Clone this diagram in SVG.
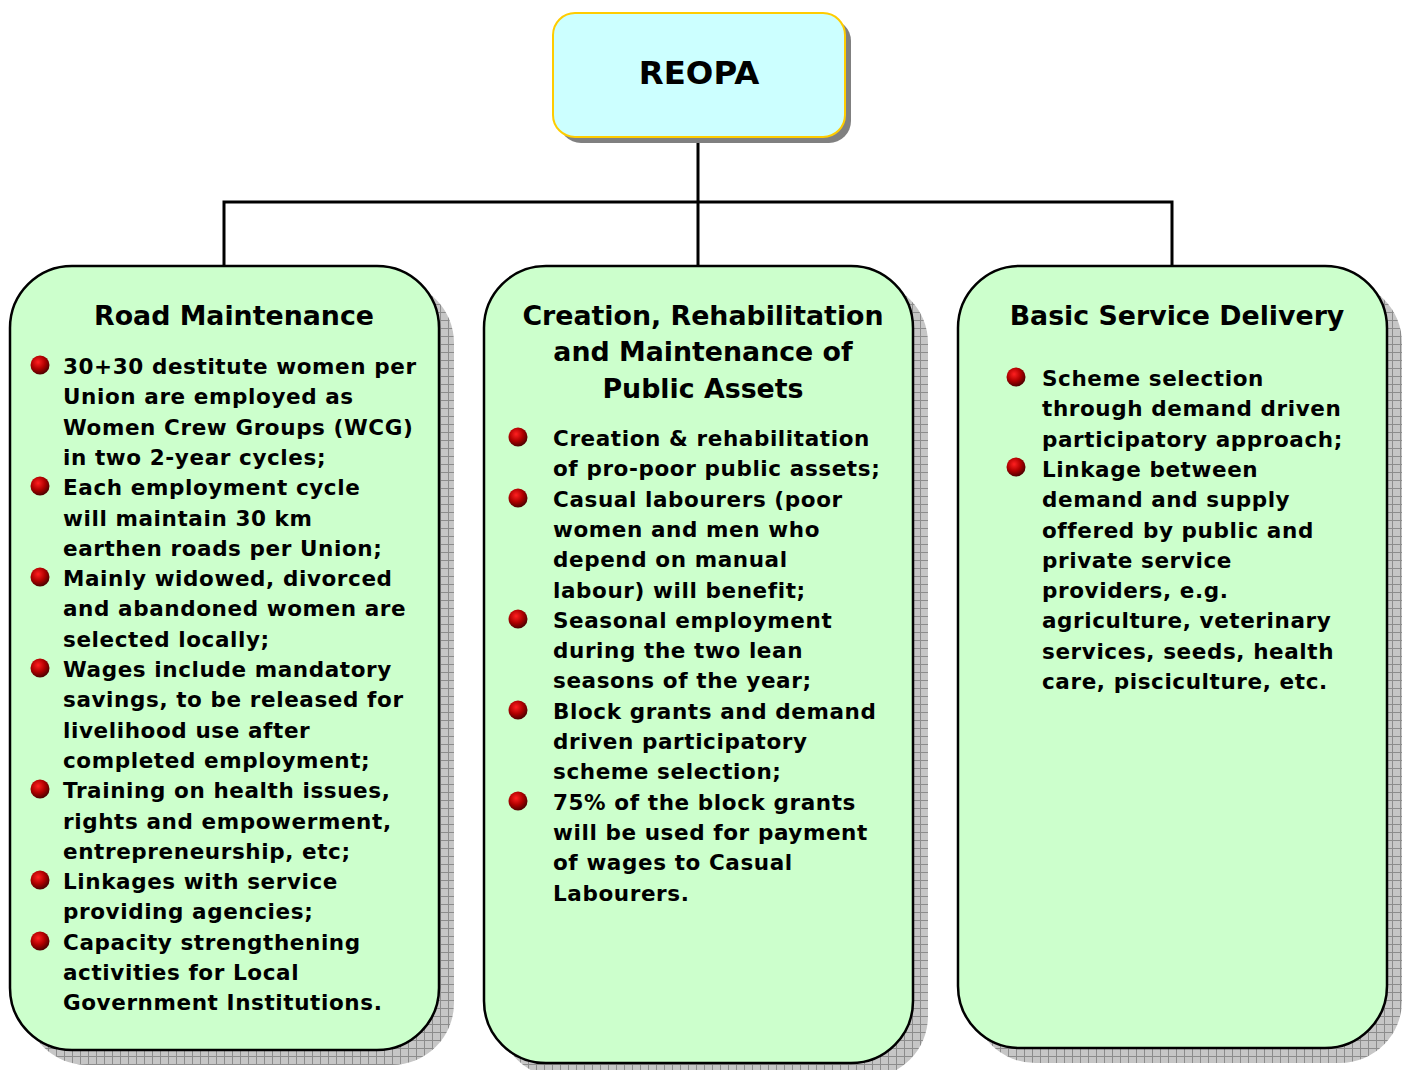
<svg xmlns="http://www.w3.org/2000/svg" width="1407" height="1070" viewBox="0 0 1407 1070">
<style>
.box{fill:#CCFFCC;stroke:#000;stroke-width:2.5}
.shadow{fill:url(#hatch)}
.head{font-family:"DejaVu Sans",Verdana,sans-serif;font-weight:bold;font-size:26.8px;fill:#000;text-anchor:middle}
.body{font-family:"DejaVu Sans",Verdana,sans-serif;font-weight:bold;font-size:21.5px;letter-spacing:0.6px;fill:#000}
.conn{stroke:#000;stroke-width:3;fill:none}
</style>
<defs>
<pattern id="hatch" width="8" height="8" patternUnits="userSpaceOnUse">
<rect width="8" height="8" fill="#c6c6c6"/>
<path d="M0 0.5H8M0.5 0V8" stroke="#8c8c8c" stroke-width="1"/>
</pattern>
<radialGradient id="ball" cx="0.4" cy="0.35" r="0.65">
<stop offset="0" stop-color="#ff2020"/>
<stop offset="0.55" stop-color="#b00000"/>
<stop offset="1" stop-color="#500000"/>
</radialGradient>
<circle id="b" r="9.5" fill="url(#ball)"/>
</defs>

<g id="connectors">
<path class="conn" d="M698 138V202M224 266V202H1172V266M698 202V266"/>
</g>

<g id="reopa">
<rect x="559" y="19" width="292" height="124" rx="22" fill="#808080"/>
<rect x="553" y="13" width="292" height="124" rx="22" fill="#CCFFFF" stroke="#FFCC00" stroke-width="2"/>
<text x="699" y="84" font-family="DejaVu Sans,Verdana,sans-serif" font-weight="bold" font-size="32.4" text-anchor="middle">REOPA</text>
</g>

<g id="road">
<rect class="shadow" x="25" y="281" width="429" height="784" rx="62"/>
<rect class="box" x="10" y="266" width="429" height="784" rx="62"/>
<text class="head" x="234" y="325">Road Maintenance</text>
<use href="#b" x="40" y="365"/>
<use href="#b" x="40" y="486"/>
<use href="#b" x="40" y="577"/>
<use href="#b" x="40" y="668"/>
<use href="#b" x="40" y="789"/>
<use href="#b" x="40" y="880"/>
<use href="#b" x="40" y="941"/>
<text class="body">
<tspan x="63" y="374">30+30 destitute women per</tspan>
<tspan x="63" y="404.3">Union are employed as</tspan>
<tspan x="63" y="434.6">Women Crew Groups (WCG)</tspan>
<tspan x="63" y="464.9">in two 2-year cycles;</tspan>
<tspan x="63" y="495.2">Each employment cycle</tspan>
<tspan x="63" y="525.5">will maintain 30 km</tspan>
<tspan x="63" y="555.8">earthen roads per Union;</tspan>
<tspan x="63" y="586.1">Mainly widowed, divorced</tspan>
<tspan x="63" y="616.4">and abandoned women are</tspan>
<tspan x="63" y="646.7">selected locally;</tspan>
<tspan x="63" y="677">Wages include mandatory</tspan>
<tspan x="63" y="707.3">savings, to be released for</tspan>
<tspan x="63" y="737.6">livelihood use after</tspan>
<tspan x="63" y="767.9">completed employment;</tspan>
<tspan x="63" y="798.2">Training on health issues,</tspan>
<tspan x="63" y="828.5">rights and empowerment,</tspan>
<tspan x="63" y="858.8">entrepreneurship, etc;</tspan>
<tspan x="63" y="889.1">Linkages with service</tspan>
<tspan x="63" y="919.4">providing agencies;</tspan>
<tspan x="63" y="949.7">Capacity strengthening</tspan>
<tspan x="63" y="980">activities for Local</tspan>
<tspan x="63" y="1010.3">Government Institutions.</tspan>
</text>
</g>

<g id="assets">
<rect class="shadow" x="499" y="281" width="429" height="797" rx="62"/>
<rect class="box" x="484" y="266" width="429" height="797" rx="62"/>
<text class="head" x="703" y="325">Creation, Rehabilitation</text>
<text class="head" x="703" y="361">and Maintenance of</text>
<text class="head" x="703" y="398">Public Assets</text>
<use href="#b" x="518" y="437"/>
<use href="#b" x="518" y="498"/>
<use href="#b" x="518" y="619"/>
<use href="#b" x="518" y="710"/>
<use href="#b" x="518" y="801"/>
<text class="body">
<tspan x="553" y="446">Creation &amp; rehabilitation</tspan>
<tspan x="553" y="476.3">of pro-poor public assets;</tspan>
<tspan x="553" y="506.6">Casual labourers (poor</tspan>
<tspan x="553" y="536.9">women and men who</tspan>
<tspan x="553" y="567.2">depend on manual</tspan>
<tspan x="553" y="597.5">labour) will benefit;</tspan>
<tspan x="553" y="627.8">Seasonal employment</tspan>
<tspan x="553" y="658.1">during the two lean</tspan>
<tspan x="553" y="688.4">seasons of the year;</tspan>
<tspan x="553" y="718.7">Block grants and demand</tspan>
<tspan x="553" y="749">driven participatory</tspan>
<tspan x="553" y="779.3">scheme selection;</tspan>
<tspan x="553" y="809.6">75% of the block grants</tspan>
<tspan x="553" y="839.9">will be used for payment</tspan>
<tspan x="553" y="870.2">of wages to Casual</tspan>
<tspan x="553" y="900.5">Labourers.</tspan>
</text>
</g>

<g id="basic">
<rect class="shadow" x="973" y="281" width="429" height="782" rx="62"/>
<rect class="box" x="958" y="266" width="429" height="782" rx="62"/>
<text class="head" x="1177" y="325">Basic Service Delivery</text>
<use href="#b" x="1016" y="377"/>
<use href="#b" x="1016" y="467"/>
<text class="body">
<tspan x="1042" y="386">Scheme selection</tspan>
<tspan x="1042" y="416.3">through demand driven</tspan>
<tspan x="1042" y="446.6">participatory approach;</tspan>
<tspan x="1042" y="476.9">Linkage between</tspan>
<tspan x="1042" y="507.2">demand and supply</tspan>
<tspan x="1042" y="537.5">offered by public and</tspan>
<tspan x="1042" y="567.8">private service</tspan>
<tspan x="1042" y="598.1">providers, e.g.</tspan>
<tspan x="1042" y="628.4">agriculture, veterinary</tspan>
<tspan x="1042" y="658.7">services, seeds, health</tspan>
<tspan x="1042" y="689">care, pisciculture, etc.</tspan>
</text>
</g>
</svg>
